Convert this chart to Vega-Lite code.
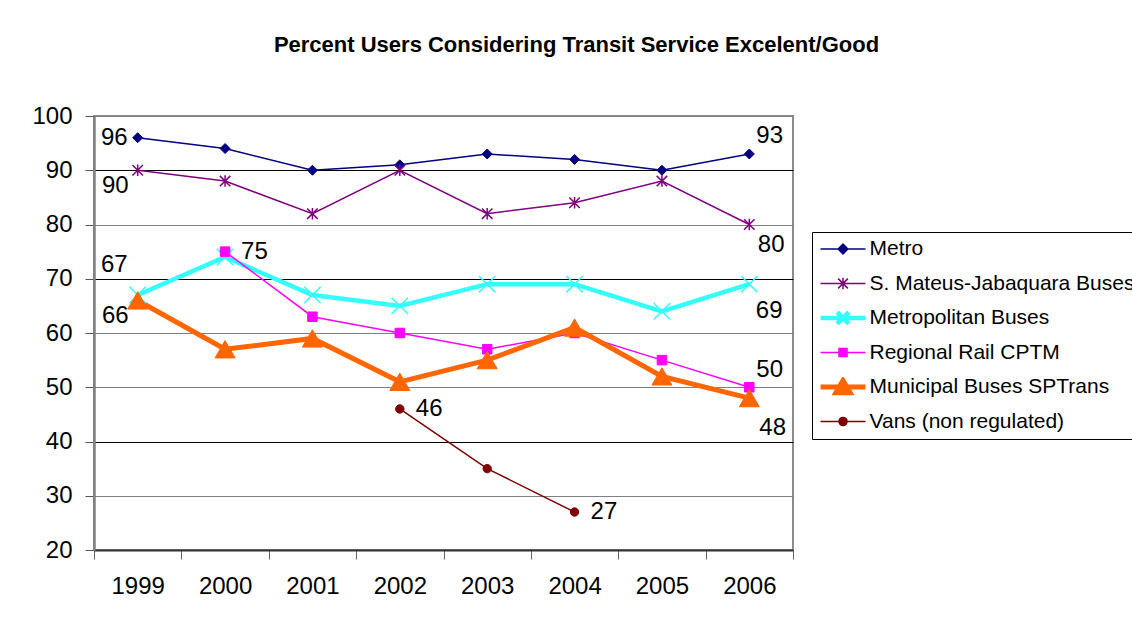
{
  "$schema": "https://vega.github.io/schema/vega-lite/v6.json",
  "width": 699,
  "height": 434,
  "autosize": {"type": "none"},
  "padding": {"left": 94, "top": 116, "right": 339, "bottom": 68},
  "background": "white",
  "config": {
    "font": "Liberation Sans",
    "view": {"stroke": "#8c8c8c", "strokeWidth": 2}
  },
  "title": {
    "text": "Percent Users Considering Transit Service Excelent/Good",
    "font": "Liberation Sans",
    "fontSize": 22,
    "fontWeight": "bold",
    "color": "black",
    "anchor": "middle",
    "dx": 133,
    "offset": 30,
    "baseline": "alphabetic"
  },
  "data": {
    "values": [
      {"series": "Metro", "year": "1999", "value": 96},
      {"series": "Metro", "year": "2000", "value": 94},
      {"series": "Metro", "year": "2001", "value": 90},
      {"series": "Metro", "year": "2002", "value": 91},
      {"series": "Metro", "year": "2003", "value": 93},
      {"series": "Metro", "year": "2004", "value": 92},
      {"series": "Metro", "year": "2005", "value": 90},
      {"series": "Metro", "year": "2006", "value": 93},
      {"series": "S. Mateus-Jabaquara Buses", "year": "1999", "value": 90},
      {"series": "S. Mateus-Jabaquara Buses", "year": "2000", "value": 88},
      {"series": "S. Mateus-Jabaquara Buses", "year": "2001", "value": 82},
      {"series": "S. Mateus-Jabaquara Buses", "year": "2002", "value": 90},
      {"series": "S. Mateus-Jabaquara Buses", "year": "2003", "value": 82},
      {"series": "S. Mateus-Jabaquara Buses", "year": "2004", "value": 84},
      {"series": "S. Mateus-Jabaquara Buses", "year": "2005", "value": 88},
      {"series": "S. Mateus-Jabaquara Buses", "year": "2006", "value": 80},
      {"series": "Metropolitan Buses", "year": "1999", "value": 67},
      {"series": "Metropolitan Buses", "year": "2000", "value": 74},
      {"series": "Metropolitan Buses", "year": "2001", "value": 67},
      {"series": "Metropolitan Buses", "year": "2002", "value": 65},
      {"series": "Metropolitan Buses", "year": "2003", "value": 69},
      {"series": "Metropolitan Buses", "year": "2004", "value": 69},
      {"series": "Metropolitan Buses", "year": "2005", "value": 64},
      {"series": "Metropolitan Buses", "year": "2006", "value": 69},
      {"series": "Regional Rail CPTM", "year": "2000", "value": 75},
      {"series": "Regional Rail CPTM", "year": "2001", "value": 63},
      {"series": "Regional Rail CPTM", "year": "2002", "value": 60},
      {"series": "Regional Rail CPTM", "year": "2003", "value": 57},
      {"series": "Regional Rail CPTM", "year": "2004", "value": 60},
      {"series": "Regional Rail CPTM", "year": "2005", "value": 55},
      {"series": "Regional Rail CPTM", "year": "2006", "value": 50},
      {"series": "Municipal Buses SPTrans", "year": "1999", "value": 66},
      {"series": "Municipal Buses SPTrans", "year": "2000", "value": 57},
      {"series": "Municipal Buses SPTrans", "year": "2001", "value": 59},
      {"series": "Municipal Buses SPTrans", "year": "2002", "value": 51},
      {"series": "Municipal Buses SPTrans", "year": "2003", "value": 55},
      {"series": "Municipal Buses SPTrans", "year": "2004", "value": 61},
      {"series": "Municipal Buses SPTrans", "year": "2005", "value": 52},
      {"series": "Municipal Buses SPTrans", "year": "2006", "value": 48},
      {"series": "Vans (non regulated)", "year": "2002", "value": 46},
      {"series": "Vans (non regulated)", "year": "2003", "value": 35},
      {"series": "Vans (non regulated)", "year": "2004", "value": 27}
    ]
  },
  "encoding": {
    "x": {
      "field": "year",
      "type": "ordinal",
      "scale": {"type": "band", "paddingInner": 0, "paddingOuter": 0},
      "axis": {
        "title": null,
        "labelAngle": 0,
        "tickBand": "extent",
        "tickSize": 9,
        "tickColor": "#666666",
        "domainColor": "#333333",
        "domainWidth": 2,
        "labelFontSize": 24,
        "labelPadding": 15,
        "labelColor": "black",
        "grid": false
      }
    },
    "y": {
      "field": "value",
      "type": "quantitative",
      "scale": {"domain": [20, 100], "nice": false, "zero": false},
      "axis": {
        "title": null,
        "values": [20, 30, 40, 50, 60, 70, 80, 90, 100],
        "tickSize": 9,
        "tickColor": "#555555",
        "domainColor": "#808080",
        "domainWidth": 2.5,
        "labelFontSize": 24,
        "labelPadding": 13,
        "labelColor": "black",
        "labelFlush": false,
        "labelOverlap": false,
        "grid": true,
        "gridWidth": 1,
        "gridColor": {
          "condition": {"test": "datum.value === 90 || datum.value === 70 || datum.value === 40", "value": "#000000"},
          "value": "#808080"
        }
      }
    }
  },
  "layer": [
    {
      "mark": {"type": "line"},
      "encoding": {
        "color": {
          "field": "series",
          "type": "nominal",
          "scale": {
            "domain": ["Metro", "S. Mateus-Jabaquara Buses", "Metropolitan Buses", "Regional Rail CPTM", "Municipal Buses SPTrans", "Vans (non regulated)"],
            "range": ["#000080", "#800080", "#33FFFF", "#FF00FF", "#FF6600", "#800000"]
          }
        },
        "strokeWidth": {
          "field": "series",
          "type": "nominal",
          "scale": {
            "type": "ordinal",
            "domain": ["Metro", "S. Mateus-Jabaquara Buses", "Metropolitan Buses", "Regional Rail CPTM", "Municipal Buses SPTrans", "Vans (non regulated)"],
            "range": [1.5, 1.5, 4.5, 1.5, 5, 1.5]
          }
        }
      }
    },
    {
      "transform": [{"filter": "datum.series === 'Metro'"}],
      "mark": {"type": "point", "shape": "diamond", "size": 100, "filled": true, "opacity": 1, "fill": "#000080", "stroke": "#000080", "strokeWidth": 1}
    },
    {
      "transform": [{"filter": "datum.series === 'S. Mateus-Jabaquara Buses'"}],
      "mark": {"type": "point", "shape": "M-1,-1L1,1M-1,1L1,-1M0,-1.1L0,1.1", "size": 110, "filled": true, "opacity": 1, "fill": "#800080", "stroke": "#800080", "strokeWidth": 1.5}
    },
    {
      "transform": [{"filter": "datum.series === 'Metropolitan Buses'"}],
      "mark": {"type": "point", "shape": "M-1,-1L1,1M-1,1L1,-1", "size": 270, "filled": true, "opacity": 1, "fill": "#33FFFF", "stroke": "#33FFFF", "strokeWidth": 1.5}
    },
    {
      "transform": [{"filter": "datum.series === 'Regional Rail CPTM'"}],
      "mark": {"type": "point", "shape": "square", "size": 90, "filled": true, "opacity": 1, "fill": "#FF00FF", "stroke": "#FF00FF", "strokeWidth": 1}
    },
    {
      "transform": [{"filter": "datum.series === 'Municipal Buses SPTrans'"}],
      "mark": {"type": "point", "shape": "triangle-up", "size": 400, "filled": true, "opacity": 1, "fill": "#FF6600", "stroke": "#FF6600", "strokeWidth": 1}
    },
    {
      "transform": [{"filter": "datum.series === 'Vans (non regulated)'"}],
      "mark": {"type": "point", "shape": "circle", "size": 70, "filled": true, "opacity": 1, "fill": "#800000", "stroke": "#800000", "strokeWidth": 1}
    },
    {
      "mark": {"type": "point", "filled": true, "opacity": 0},
      "encoding": {
        "fill": {
          "field": "series",
          "type": "nominal",
          "scale": {
            "domain": ["Metro", "S. Mateus-Jabaquara Buses", "Metropolitan Buses", "Regional Rail CPTM", "Municipal Buses SPTrans", "Vans (non regulated)"],
            "range": ["#000080", "#800080", "#33FFFF", "#FF00FF", "#FF6600", "#800000"]
          },
          "legend": {
            "title": null,
            "orient": "none",
            "legendX": 718,
            "legendY": 116,
            "direction": "vertical",
            "strokeColor": "black",
            "fillColor": "white",
            "padding": 7,
            "rowPadding": 13.5,
            "clipHeight": 20,
            "symbolSize": 169,
            "symbolOpacity": 1,
            "symbolOffset": 13.5,
            "labelOffset": 16,
            "labelFontSize": 21,
            "labelFont": "Liberation Sans",
            "labelColor": "black",
            "labelLimit": 400
          }
        },
        "stroke": {
          "field": "series",
          "type": "nominal",
          "scale": {
            "domain": ["Metro", "S. Mateus-Jabaquara Buses", "Metropolitan Buses", "Regional Rail CPTM", "Municipal Buses SPTrans", "Vans (non regulated)"],
            "range": ["#000080", "#800080", "#33FFFF", "#FF00FF", "#FF6600", "#800000"]
          }
        },
        "strokeWidth": {
          "field": "series",
          "type": "nominal",
          "scale": {
            "type": "ordinal",
            "domain": ["Metro", "S. Mateus-Jabaquara Buses", "Metropolitan Buses", "Regional Rail CPTM", "Municipal Buses SPTrans", "Vans (non regulated)"],
            "range": [1.5, 1.5, 4.5, 1.5, 5, 1.5]
          }
        },
        "shape": {
          "field": "series",
          "type": "nominal",
          "scale": {
            "domain": ["Metro", "S. Mateus-Jabaquara Buses", "Metropolitan Buses", "Regional Rail CPTM", "Municipal Buses SPTrans", "Vans (non regulated)"],
            "range": [
              "M-3.46,0H3.46M-0.75,0L0,-0.75L0.75,0L0,0.75ZM-0.5,0L0,-0.5L0.5,0L0,0.5ZM-0.25,0L0,-0.25L0.25,0L0,0.25Z",
              "M-3.46,0H3.46M-0.75,-0.75L0.75,0.75M-0.75,0.75L0.75,-0.75M0,-0.9L0,0.9",
              "M-3.46,0H3.46M-0.9,-0.9L0.9,0.9M-0.9,0.9L0.9,-0.9",
              "M-3.46,0H3.46M-0.62,-0.62H0.62V0.62H-0.62ZM-0.4,-0.4H0.4V0.4H-0.4ZM-0.18,-0.18H0.18V0.18H-0.18Z",
              "M-3.46,0H3.46M0,-1.0L1.1,0.9L-1.1,0.9ZM0,-0.4L0.5,0.55L-0.5,0.55Z",
              "M-3.46,0H3.46M-0.62,0A0.62,0.62 0 1,0 0.62,0A0.62,0.62 0 1,0 -0.62,0ZM-0.4,0A0.4,0.4 0 1,0 0.4,0A0.4,0.4 0 1,0 -0.4,0ZM-0.18,0A0.18,0.18 0 1,0 0.18,0A0.18,0.18 0 1,0 -0.18,0Z"
            ]
          }
        }
      }
    },
    {
      "transform": [{"filter": "datum.series === 'Metro' && datum.year === '1999'"}],
      "mark": {"type": "text", "align": "right", "baseline": "middle", "dx": -10, "dy": 0, "fontSize": 24, "color": "black"},
      "encoding": {"text": {"field": "value", "type": "quantitative"}}
    },
    {
      "transform": [{"filter": "(datum.series === 'S. Mateus-Jabaquara Buses' || datum.series === 'Municipal Buses SPTrans') && datum.year === '1999'"}],
      "mark": {"type": "text", "align": "right", "baseline": "middle", "dx": -9, "dy": 16, "fontSize": 24, "color": "black"},
      "encoding": {"text": {"field": "value", "type": "quantitative"}}
    },
    {
      "transform": [{"filter": "datum.series === 'Metropolitan Buses' && datum.year === '1999'"}],
      "mark": {"type": "text", "align": "right", "baseline": "middle", "dx": -10, "dy": -30, "fontSize": 24, "color": "black"},
      "encoding": {"text": {"field": "value", "type": "quantitative"}}
    },
    {
      "transform": [{"filter": "(datum.series === 'Regional Rail CPTM' && datum.year === '2000') || (datum.series === 'Vans (non regulated)' && (datum.year === '2002' || datum.year === '2004'))"}],
      "mark": {"type": "text", "align": "left", "baseline": "middle", "dx": 16, "dy": 0, "fontSize": 24, "color": "black"},
      "encoding": {"text": {"field": "value", "type": "quantitative"}}
    },
    {
      "transform": [{"filter": "(datum.series === 'Metro' || datum.series === 'Regional Rail CPTM') && datum.year === '2006'"}],
      "mark": {"type": "text", "align": "left", "baseline": "middle", "dx": 7, "dy": -17.5, "fontSize": 24, "color": "black"},
      "encoding": {"text": {"field": "value", "type": "quantitative"}}
    },
    {
      "transform": [{"filter": "datum.series === 'S. Mateus-Jabaquara Buses' && datum.year === '2006'"}],
      "mark": {"type": "text", "align": "left", "baseline": "middle", "dx": 8.5, "dy": 20, "fontSize": 24, "color": "black"},
      "encoding": {"text": {"field": "value", "type": "quantitative"}}
    },
    {
      "transform": [{"filter": "datum.series === 'Metropolitan Buses' && datum.year === '2006'"}],
      "mark": {"type": "text", "align": "left", "baseline": "middle", "dx": 6.5, "dy": 27, "fontSize": 24, "color": "black"},
      "encoding": {"text": {"field": "value", "type": "quantitative"}}
    },
    {
      "transform": [{"filter": "datum.series === 'Municipal Buses SPTrans' && datum.year === '2006'"}],
      "mark": {"type": "text", "align": "left", "baseline": "middle", "dx": 10, "dy": 29.5, "fontSize": 24, "color": "black"},
      "encoding": {"text": {"field": "value", "type": "quantitative"}}
    }
  ]
}
